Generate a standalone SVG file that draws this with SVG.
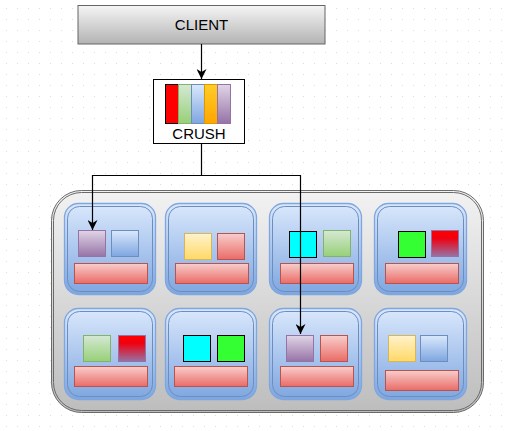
<svg xmlns="http://www.w3.org/2000/svg" width="506" height="431" viewBox="0 0 506 431">
<defs>
<pattern id="grid" x="6" y="8" width="11" height="11" patternUnits="userSpaceOnUse">
<rect x="0" y="0" width="1" height="1" fill="#dedede"/>
</pattern>
<linearGradient id="gGray" x1="0" y1="0" x2="0" y2="1"><stop offset="0" stop-color="#f5f5f5"/><stop offset="1" stop-color="#b3b3b3"/></linearGradient>
<linearGradient id="gCont" x1="0" y1="0" x2="0" y2="1"><stop offset="0" stop-color="#f2f2f2"/><stop offset="1" stop-color="#bdbdbd"/></linearGradient>
<linearGradient id="gCell" x1="0" y1="0" x2="0" y2="1"><stop offset="0" stop-color="#dae8fc"/><stop offset="1" stop-color="#7ea6e0"/></linearGradient>
<linearGradient id="gPurple" x1="0" y1="0" x2="0" y2="1"><stop offset="0" stop-color="#e1d5e7"/><stop offset="1" stop-color="#9673a6"/></linearGradient>
<linearGradient id="gBlue" x1="0" y1="0" x2="0" y2="1"><stop offset="0" stop-color="#dae8fc"/><stop offset="1" stop-color="#7ea6e0"/></linearGradient>
<linearGradient id="gRed" x1="0" y1="0" x2="0" y2="1"><stop offset="0" stop-color="#f8cecc"/><stop offset="1" stop-color="#ea6b66"/></linearGradient>
<linearGradient id="gYellow" x1="0" y1="0" x2="0" y2="1"><stop offset="0" stop-color="#fff2cc"/><stop offset="1" stop-color="#ffd966"/></linearGradient>
<linearGradient id="gGreen" x1="0" y1="0" x2="0" y2="1"><stop offset="0" stop-color="#d5e8d4"/><stop offset="1" stop-color="#97d077"/></linearGradient>
<linearGradient id="gOrange" x1="0" y1="0" x2="0" y2="1"><stop offset="0" stop-color="#ffcd28"/><stop offset="1" stop-color="#ffa500"/></linearGradient>
<linearGradient id="gRedPurple" x1="0" y1="0" x2="0" y2="1"><stop offset="0" stop-color="#ff0000"/><stop offset="0.3" stop-color="#f00010"/><stop offset="1" stop-color="#9673a6"/></linearGradient>
<marker id="arrow" viewBox="0 0 10 10" refX="10" refY="5" markerWidth="10" markerHeight="10" markerUnits="userSpaceOnUse" orient="auto">
<path d="M0,0 L10,5 L0,10 L3,5 Z" fill="#000"/>
</marker>
</defs>
<style>
.txt{font-family:"Liberation Sans",Arial,sans-serif;font-size:15px;fill:#000;text-anchor:middle}
.cellO{fill:url(#gCell);stroke:#7ea6e0;stroke-width:1.3}
.cellI{fill:none;stroke:#6c8ebf;stroke-width:1}
.purple{fill:url(#gPurple);stroke:#9673a6}
.blue{fill:url(#gBlue);stroke:#6c8ebf}
.red{fill:url(#gRed);stroke:#b85450}
.yellow{fill:url(#gYellow);stroke:#d6b656}
.green{fill:url(#gGreen);stroke:#82b366}
.cyan{fill:#00ffff;stroke:#000}
.lime{fill:#33ff33;stroke:#000}
.redp{fill:url(#gRedPurple);stroke:#9673a6}
.edge{fill:none;stroke:#000;stroke-width:1.2}
</style>
<rect x="0" y="0" width="506" height="431" fill="#fff"/>
<rect x="0" y="0" width="506" height="431" fill="url(#grid)"/>

<g id="client">
<rect x="78" y="5.5" width="247" height="38.5" fill="url(#gGray)" stroke="#666"/>
<text class="txt" x="201.5" y="30">CLIENT</text>
</g>

<g id="crush">
<rect x="153.5" y="79.5" width="91" height="64" fill="#fff" stroke="#000"/>
<rect x="165.5" y="84.5" width="13" height="39" fill="#ff0000" stroke="#000"/>
<rect x="178.5" y="84.5" width="13" height="39" fill="url(#gGreen)" stroke="#82b366"/>
<rect x="191.5" y="84.5" width="13" height="39" fill="url(#gBlue)" stroke="#6c8ebf"/>
<rect x="204.5" y="84.5" width="13" height="39" fill="url(#gOrange)" stroke="#d79b00"/>
<rect x="217.5" y="84.5" width="13" height="39" fill="url(#gPurple)" stroke="#9673a6"/>
<text class="txt" x="199" y="138.5">CRUSH</text>
</g>

<g id="cluster">
<rect x="51.5" y="190.5" width="432" height="222" rx="30" ry="30" fill="url(#gCont)" stroke="#6a6a6a"/>
<rect x="53.5" y="192.5" width="428" height="218" rx="28" ry="28" fill="none" stroke="#6a6a6a"/>
</g>

<g id="node1">
<rect class="cellO" x="64.5" y="203.5" width="91" height="91" rx="14"/>
<rect class="cellI" x="67.5" y="206.5" width="85" height="85" rx="12"/>
<rect class="purple" x="78.5" y="230.5" width="27" height="26"/>
<rect class="blue" x="111.5" y="230.5" width="27" height="26"/>
<rect class="red" x="74.5" y="263.5" width="73" height="20"/>
</g>
<g id="node2">
<rect class="cellO" x="165.5" y="203.5" width="91" height="91" rx="14"/>
<rect class="cellI" x="168.5" y="206.5" width="85" height="85" rx="12"/>
<rect class="yellow" x="184.5" y="233.5" width="27" height="26"/>
<rect class="red" x="217.5" y="233.5" width="27" height="26"/>
<rect class="red" x="175.5" y="263.5" width="73" height="20"/>
</g>
<g id="node3">
<rect class="cellO" x="269.5" y="203.5" width="92" height="91" rx="14"/>
<rect class="cellI" x="272.5" y="206.5" width="86" height="85" rx="12"/>
<rect class="cyan" x="289.5" y="231.5" width="27" height="26"/>
<rect class="green" x="323.5" y="230.5" width="27" height="26"/>
<rect class="red" x="280.5" y="263.5" width="73" height="20"/>
</g>
<g id="node4">
<rect class="cellO" x="374.5" y="203.5" width="92" height="91" rx="14"/>
<rect class="cellI" x="377.5" y="206.5" width="86" height="85" rx="12"/>
<rect class="lime" x="398.5" y="231.5" width="27" height="26"/>
<rect class="redp" x="431.5" y="230.5" width="27" height="26"/>
<rect class="red" x="385.5" y="263.5" width="73" height="20"/>
</g>
<g id="node5">
<rect class="cellO" x="64.5" y="308.5" width="91" height="91" rx="14"/>
<rect class="cellI" x="67.5" y="311.5" width="85" height="85" rx="12"/>
<rect class="green" x="83.5" y="335.5" width="27" height="26"/>
<rect class="redp" x="118.5" y="335.5" width="27" height="26"/>
<rect class="red" x="74.5" y="366.5" width="73" height="20"/>
</g>
<g id="node6">
<rect class="cellO" x="165.5" y="308.5" width="91" height="91" rx="14"/>
<rect class="cellI" x="168.5" y="311.5" width="85" height="85" rx="12"/>
<rect class="cyan" x="183.5" y="335.5" width="27" height="26"/>
<rect class="lime" x="217.5" y="335.5" width="27" height="26"/>
<rect class="red" x="174.5" y="366.5" width="73" height="20"/>
</g>
<g id="node7">
<rect class="cellO" x="269.5" y="308.5" width="92" height="91" rx="14"/>
<rect class="cellI" x="272.5" y="311.5" width="86" height="85" rx="12"/>
<rect class="purple" x="286.5" y="335.5" width="27" height="26"/>
<rect class="red" x="320.5" y="335.5" width="27" height="26"/>
<rect class="red" x="280.5" y="366.5" width="73" height="20"/>
</g>
<g id="node8">
<rect class="cellO" x="374.5" y="308.5" width="92" height="91" rx="14"/>
<rect class="cellI" x="377.5" y="311.5" width="86" height="85" rx="12"/>
<rect class="yellow" x="388.5" y="335.5" width="27" height="26"/>
<rect class="blue" x="420.5" y="335.5" width="27" height="26"/>
<rect class="red" x="385.5" y="370.5" width="73" height="20"/>
</g>

<g id="connectors">
<path class="edge" d="M201.5,44 L201.5,79" marker-end="url(#arrow)"/>
<path class="edge" d="M201.5,144 L201.5,175.5 L92.5,175.5 L92.5,230" marker-end="url(#arrow)"/>
<path class="edge" d="M201.5,175.5 L300.5,175.5 L300.5,334" marker-end="url(#arrow)"/>
</g>
</svg>
